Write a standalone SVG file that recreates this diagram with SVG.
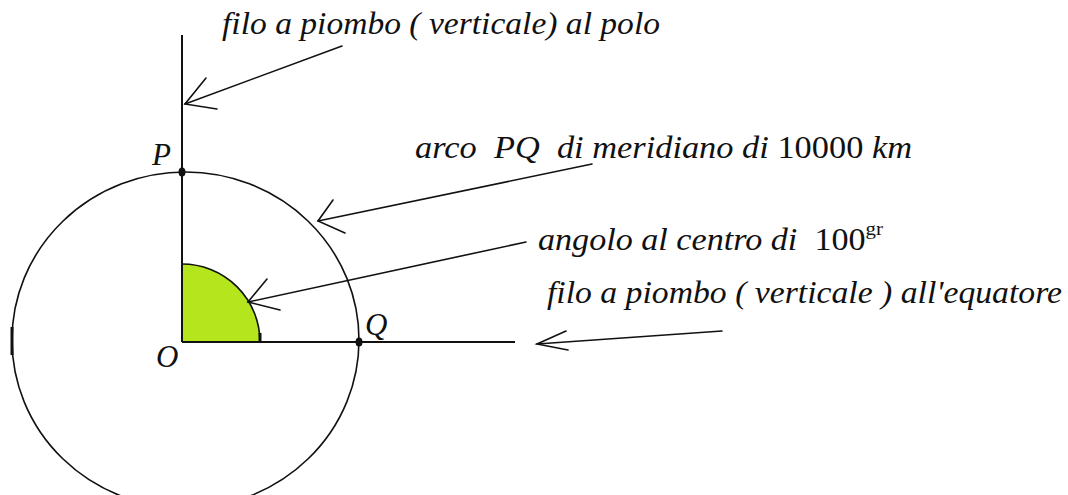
<svg xmlns="http://www.w3.org/2000/svg" width="1068" height="495" viewBox="0 0 1068 495">
<style>
.t{font-family:"Liberation Serif","Times New Roman",serif;font-style:italic;font-size:31px;fill:#111;white-space:pre}
.up{font-style:normal}
.ln{stroke:#111;stroke-width:1.6;fill:none;stroke-linecap:round}
.ax{stroke:#111;stroke-width:2;fill:none}
</style>
<rect width="1068" height="495" fill="#fff"/>
<g id="sector"><path d="M182,342 L182,264 A78,78 0 0 1 260,342 Z" fill="#b5e61d"/><path d="M182,264 A78,78 0 0 1 260,342" class="ln"/><line x1="260" y1="333" x2="260" y2="342" stroke="#111" stroke-width="3"/></g>
<g id="circle"><ellipse cx="185.5" cy="340" rx="173.5" ry="168" class="ln"/><line x1="12" y1="327" x2="12" y2="355" stroke="#111" stroke-width="3"/></g>
<g id="axes"><line x1="182" y1="35" x2="182" y2="342" class="ax"/><line x1="182" y1="342" x2="515" y2="342" class="ax"/></g>
<g id="point-P"><ellipse cx="182" cy="172" rx="3.5" ry="4.5" fill="#111"/><text class="t" x="152" y="165">P</text></g>
<g id="point-Q"><ellipse cx="359" cy="342" rx="3.5" ry="4.5" fill="#111"/><text class="t" x="365" y="335">Q</text></g>
<g id="point-O"><text class="t" x="156" y="367">O</text></g>
<g id="label-polo"><text class="t" x="222" y="34" textLength="438" lengthAdjust="spacingAndGlyphs">filo a piombo ( verticale) al polo</text></g>
<g id="label-arco"><text class="t" x="415" y="158" textLength="497" lengthAdjust="spacingAndGlyphs">arco  PQ  di meridiano di <tspan class="up">10000</tspan> km</text></g>
<g id="label-angolo"><text class="t" x="538" y="250" textLength="345" lengthAdjust="spacingAndGlyphs">angolo al centro di  <tspan class="up">100</tspan><tspan class="up" font-size="19" dy="-15">gr</tspan></text></g>
<g id="label-equatore"><text class="t" x="547" y="303" textLength="515" lengthAdjust="spacingAndGlyphs">filo a piombo ( verticale ) all'equatore</text></g>
<g id="connectors">
<polyline class="ln" points="342,46 185,104"/><polyline class="ln" points="206,78 185,104 217,109"/>
<polyline class="ln" points="592,164 318,221"/><polyline class="ln" points="333,200 318,221 345,233"/>
<polyline class="ln" points="526,242 248,302"/><polyline class="ln" points="267,279 248,302 280,310"/>
<polyline class="ln" points="722,331 537,344"/><polyline class="ln" points="566,331 537,344 568,350"/>
</g>
</svg>
